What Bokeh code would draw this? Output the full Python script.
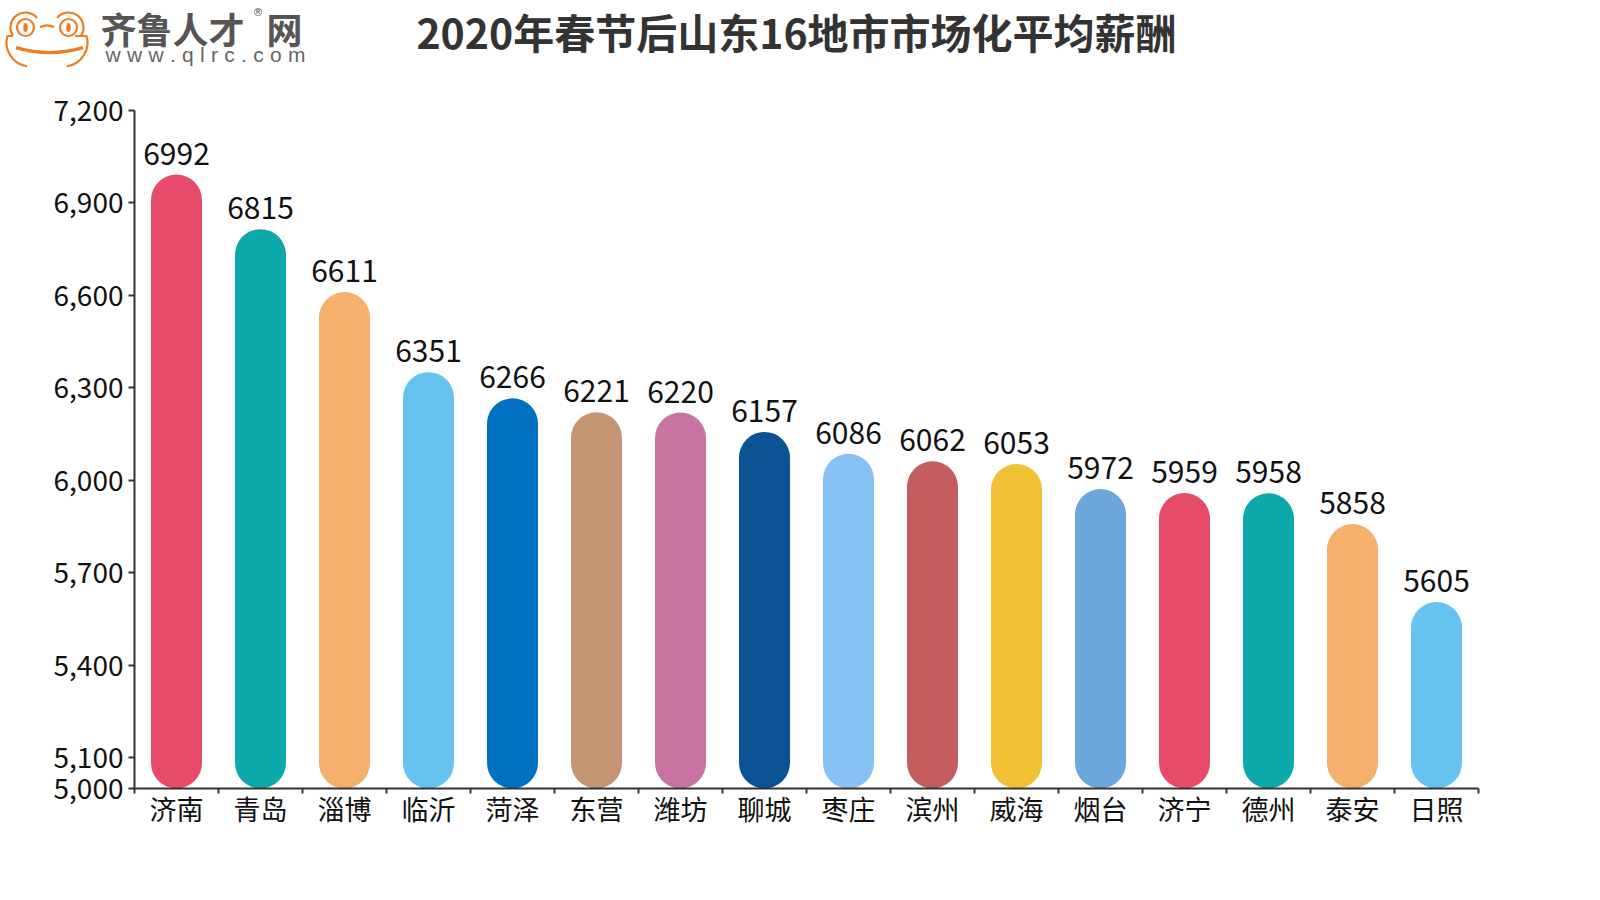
import numpy as np
from bokeh.plotting import figure
from bokeh.models import Range1d, FixedTicker, NumeralTickFormatter, ColumnDataSource, LinearAxis
from bokeh.core.properties import value
from bokeh.embed import file_html
from bokeh.resources import INLINE

# ---------------- data ----------------
title_text = "2020年春节后山东16地市市场化平均薪酬"
cities = ["济南", "青岛", "淄博", "临沂", "菏泽", "东营", "潍坊", "聊城",
          "枣庄", "滨州", "威海", "烟台", "济宁", "德州", "泰安", "日照"]
salaries = [6992, 6815, 6611, 6351, 6266, 6221, 6220, 6157,
            6086, 6062, 6053, 5972, 5959, 5958, 5858, 5605]
bar_colors = ["#E64B6A", "#0BA9A9", "#F5B06B", "#66C3F0", "#0070C0", "#C49572",
              "#C973A0", "#0C5395", "#88C1F6", "#C45D5D", "#F0C233", "#6CA7DC",
              "#E64B6A", "#0BA9A9", "#F5B06B", "#66C3F0"]
y_ticks = [5000, 5100, 5400, 5700, 6000, 6300, 6600, 6900, 7200]
y_min, y_max = 5000, 7200

FONT = "Noto Sans CJK SC"
ORANGE = "#F07C21"

# ---------------- layout constants (pixels) ----------------
W, H = 1596, 860
AX_LEFT, AX_RIGHT = 134, 1478          # x pixel of category 0 and category 16
AX_TOP, AX_BOTTOM = 110, 788           # y pixel of y_max and y_min
n = len(cities)
ppx = (AX_RIGHT - AX_LEFT) / n          # px per category
ppu = (AX_BOTTOM - AX_TOP) / (y_max - y_min)  # px per salary unit

x_start = -AX_LEFT / ppx
x_end = (W - AX_LEFT) / ppx
y_end = y_max + AX_TOP / ppu
y_start = y_min - (H - AX_BOTTOM) / ppu


def px2x(px):
    return x_start + np.asarray(px, dtype=float) / ppx


def px2y(py):
    return y_end - np.asarray(py, dtype=float) / ppu


p = figure(width=W, height=H, x_range=Range1d(x_start, x_end), y_range=Range1d(y_start, y_end),
           min_border=0, toolbar_location=None, output_backend="svg",
           x_axis_location=None, y_axis_location=None)
p.grid.visible = False
p.outline_line_color = None

# ---------------- bars (capsules) ----------------
BAR_W = 51
x_pos = np.arange(n) + 0.5
r_units = (BAR_W / 2) / ppu
src = ColumnDataSource(dict(x=x_pos, top=np.array(salaries) - r_units,
                            bottom=np.full(n, y_min + r_units),
                            val=salaries, lbl=[str(v) for v in salaries], color=bar_colors))
p.segment(x0="x", y0="bottom", x1="x", y1="top", source=src, line_color="color",
          line_width=BAR_W, line_cap="round")
p.text(x="x", y="val", text="lbl", source=src, text_font=value(FONT), text_font_size="30px",
       text_color="#111111", text_align="center", text_baseline="alphabetic", y_offset=-21)

# ---------------- axes ----------------
ya = LinearAxis(fixed_location=0, bounds=(y_min, y_max))
ya.ticker = FixedTicker(ticks=y_ticks)
ya.formatter = NumeralTickFormatter(format="0,0")
ya.axis_line_color = "#333333"
ya.axis_line_width = 2
ya.major_tick_line_color = "#333333"
ya.major_tick_line_width = 2
ya.major_tick_out = 6
ya.major_tick_in = 0
ya.minor_tick_line_color = None
ya.major_label_text_font = FONT
ya.major_label_text_font_size = "28px"
ya.major_label_text_color = "#111111"
ya.major_label_standoff = 5
p.add_layout(ya, "left")

xa = LinearAxis(fixed_location=y_min, bounds=(0, n))
xa.ticker = FixedTicker(ticks=list(x_pos), minor_ticks=list(range(n + 1)))
xa.major_label_overrides = {float(x): c for x, c in zip(x_pos, cities)}
xa.axis_line_color = "#333333"
xa.axis_line_width = 2
xa.major_tick_line_color = None
xa.major_tick_out = 0
xa.major_tick_in = 0
xa.minor_tick_line_color = "#333333"
xa.minor_tick_line_width = 2
xa.minor_tick_out = 5
xa.minor_tick_in = 0
xa.major_label_text_font = FONT
xa.major_label_text_font_size = "27px"
xa.major_label_text_color = "#111111"
xa.major_label_standoff = -5
p.add_layout(xa, "below")

# ---------------- title ----------------
p.text(x=px2x([796]), y=px2y([30]), text=[title_text], text_font=value(FONT),
       text_font_size="41px", text_font_style="bold", text_color="#333333",
       text_baseline="middle", text_align="center")

# ---------------- logo (frog + site name) ----------------
lw = 2.2
eye_px = [25, 68]
eye_py = [27, 27]
p.scatter(px2x(eye_px), px2y(eye_py), size=17, fill_color=None, line_color=ORANGE, line_width=lw)
p.ellipse(px2x(eye_px), px2y(eye_py), width=4.5, height=9, width_units="screen",
          height_units="screen", fill_color=ORANGE, line_color=None)
arcs = [  # (cx, cy, r, start_deg, end_deg, width) in page pixels
    (25, 27, 15, 40, 213, lw),
    (68, 27, 15, -33, 140, lw),
    (46.5, 40, 15, 62, 118, lw),
    (30, 42, 24, 163, 262, lw),
    (63, 42, 24, -82, 17, lw),
    (49, -66, 118, 253.5, 286.5, 3.2),
]
for cx, cy, r, a0, a1, w in arcs:
    p.arc(x=px2x([cx]), y=px2y([cy]), radius=r, radius_units="screen",
          start_angle=np.radians(a0), end_angle=np.radians(a1), line_color=ORANGE, line_width=w)
p.segment(x0=px2x([12.5, 74.5]), y0=px2y([35.5, 35.5]), x1=px2x([7, 86]), y1=px2y([35.5, 35.5]),
          line_color=ORANGE, line_width=lw)

p.text(x=px2x([100]), y=px2y([27]), text=["齐鲁人才"], text_font=value(FONT), text_font_size="36px",
       text_font_style="bold", text_color="#555555", text_baseline="middle", text_align="left")
p.text(x=px2x([266]), y=px2y([27]), text=["网"], text_font=value(FONT), text_font_size="36px",
       text_font_style="bold", text_color="#555555", text_baseline="middle", text_align="left")
p.text(x=px2x([252]), y=px2y([12]), text=["®"], text_font=value("DejaVu Sans"), text_font_size="11px",
       text_color="#555555", text_baseline="middle", text_align="left")
url = list("www.qlrc.com")
em = {"w": 0.722, ".": 0.278, "q": 0.556, "l": 0.222, "r": 0.333, "c": 0.5, "o": 0.556, "m": 0.833}
fs = 21
natural = np.array([em[c] * fs for c in url])
spacing = (200 - natural.sum()) / (len(url) - 1)
url_px = 105 + np.concatenate([[0], np.cumsum(natural[:-1] + spacing)])
p.text(x=px2x(url_px), y=px2y([54] * len(url)), text=url, text_font=value("Liberation Sans"),
       text_font_size=f"{fs}px", text_color="#666666", text_baseline="middle", text_align="left")

open("out.html", "w").write(file_html(p, INLINE))
